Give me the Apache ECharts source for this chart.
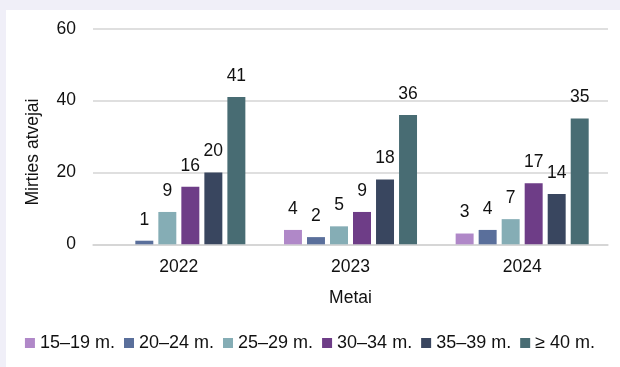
<!DOCTYPE html>
<html>
<head>
<meta charset="utf-8">
<script src="https://cdn.jsdelivr.net/npm/echarts@6/dist/echarts.min.js"></script>
<style>
  html, body { margin: 0; padding: 0; background: #f0eff8; }
  #chart { width: 620px; height: 367px; }
</style>
</head>
<body>
<div id="chart"></div>
<script>
// Death counts by mother's age group, per year
const years = ['2022', '2023', '2024'];
const ageGroups = ['15–19 m.', '20–24 m.', '25–29 m.', '30–34 m.', '35–39 m.', '≥ 40 m.'];
const age15_19 = [null, 4, 3];
const age20_24 = [1, 2, 4];
const age25_29 = [9, 5, 7];
const age30_34 = [16, 9, 17];
const age35_39 = [20, 18, 14];
const age40plus = [41, 36, 35];
const yTicks = [0, 20, 40, 60];

const groupValues = [age15_19, age20_24, age25_29, age30_34, age35_39, age40plus];
const colors = ['#b088c8', '#5a6f9b', '#85adb5', '#6e3d87', '#39465f', '#486c73'];
const font = '"Liberation Sans", Arial, sans-serif';
const textColor = '#111';

const chart = echarts.init(document.getElementById('chart'));
chart.setOption({
  backgroundColor: '#f0eff8',
  animation: false,
  textStyle: { fontFamily: font },
  graphic: [
    { type: 'rect', z: -10, shape: { x: 6, y: 10, width: 620, height: 367 }, style: { fill: '#ffffff' } },
    {
      type: 'text', x: 33, y: 152, rotation: Math.PI / 2,
      style: {
        text: 'Mirties atvejai', font: '17.5px ' + font, fill: textColor,
        textAlign: 'center', textVerticalAlign: 'middle'
      }
    }
  ],
  legend: {
    bottom: 10,
    left: 'center',
    itemWidth: 10,
    itemHeight: 10,
    itemGap: 9,
    icon: 'rect',
    textStyle: { fontSize: 18, color: textColor, fontFamily: font },
    data: ageGroups
  },
  grid: { left: 93, right: 12, top: 28.7, bottom: 122.7, containLabel: false },
  xAxis: {
    type: 'category',
    data: years,
    name: 'Metai',
    nameLocation: 'middle',
    nameGap: 45,
    nameTextStyle: { fontSize: 17.5, color: textColor, fontFamily: font },
    axisLine: { lineStyle: { color: '#d4d4d4', width: 1.5 } },
    axisTick: { show: false },
    axisLabel: { fontSize: 17.5, color: textColor, margin: 14, fontFamily: font }
  },
  yAxis: {
    type: 'value',
    min: yTicks[0],
    max: yTicks[yTicks.length - 1],
    interval: yTicks[1] - yTicks[0],
    axisLine: { show: false },
    axisTick: { show: false },
    axisLabel: { fontSize: 17.5, color: textColor, margin: 17, fontFamily: font },
    splitLine: { lineStyle: { color: '#d4d4d4', width: 1.5 } }
  },
  series: ageGroups.map((name, i) => ({
    name,
    type: 'bar',
    data: groupValues[i],
    barGap: '28%',
    barCategoryGap: '22.5%',
    itemStyle: { color: colors[i] },
    label: {
      show: true,
      position: 'top',
      distance: 12,
      fontSize: 17.5,
      color: textColor,
      fontFamily: font
    }
  }))
});
</script>
</body>
</html>
